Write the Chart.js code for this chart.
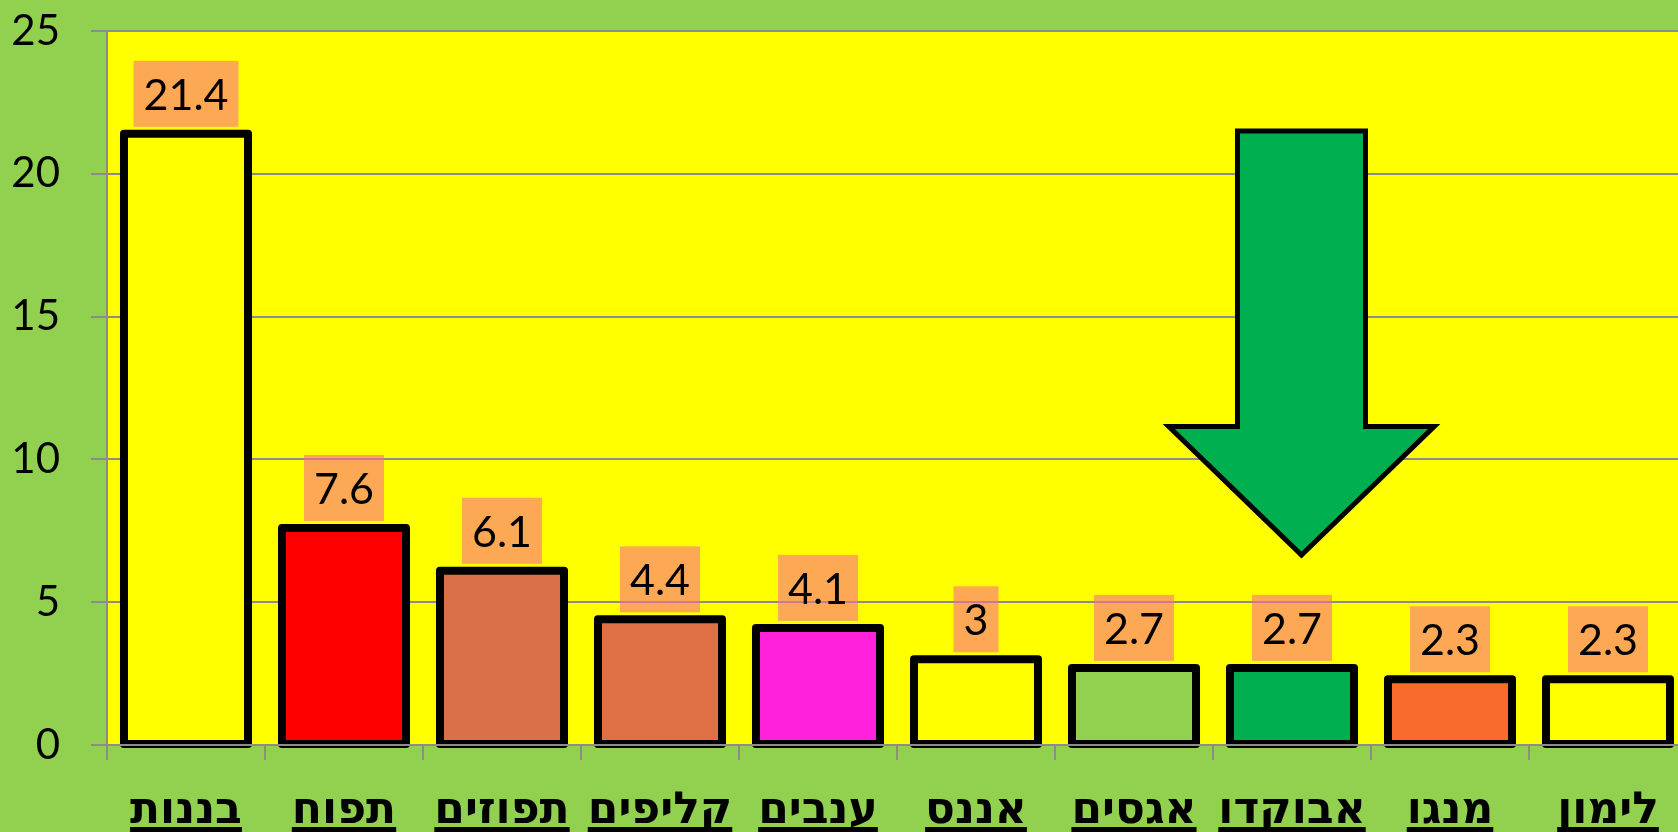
<!DOCTYPE html>
<html>
<head>
<meta charset="utf-8">
<script src="https://cdn.jsdelivr.net/npm/chart.js@4"></script>
<style>
  html, body { margin: 0; padding: 0; overflow: hidden; background: #92D050; }
</style>
</head>
<body>
<canvas id="chart1"></canvas>
<script>
// data
const categories = ['בננות', 'תפוח', 'תפוזים', 'קליפים', 'ענבים', 'אננס', 'אגסים', 'אבוקדו', 'מנגו', 'לימון'];
const values = [21.4, 7.6, 6.1, 4.4, 4.1, 3, 2.7, 2.7, 2.3, 2.3];
const barColors = ['#FFFF00', '#FF0000', '#D9704A', '#DF7046', '#FF21DB', '#FFFF00', '#92D050', '#00B050', '#F96A2D', '#FFFF00'];
const yTicks = [0, 5, 10, 15, 20, 25];

// arrow over avocado (in category / value units)
const arrowCat = 7;
const arrowShift = 0.06;
const arrowTop = 21.5;
const arrowNeck = 11.15;
const arrowTip = 6.65;
const shaftHalf = 0.405;
const headHalf = 0.84;

const labelFont = '43px Lato';
const catFont = { family: 'DejaVu Sans', size: 44, weight: 'bold' };

const canvas = document.getElementById('chart1');
canvas.width = 1690;
canvas.height = 832;
const ctx = canvas.getContext('2d');

// 배경
const bgPlugin = {
  id: 'bg',
  beforeDraw(chart) {
    const c = chart.ctx, a = chart.chartArea;
    c.save();
    c.fillStyle = '#92D050';
    c.fillRect(0, 0, chart.width, chart.height);
    c.fillStyle = '#FFFF00';
    c.fillRect(a.left, a.top, a.right - a.left, a.bottom - a.top);
    c.restore();
  },
};

// bar outlines, arrow, value boxes
const marksPlugin = {
  id: 'marks',
  afterDatasetsDraw(chart) {
    const c = chart.ctx;
    const xs = chart.scales.x, ys = chart.scales.y;
    const meta = chart.getDatasetMeta(0);
    c.save();
    c.lineWidth = 8;
    c.strokeStyle = '#000';
    c.lineJoin = 'round';
    meta.data.forEach(function (bar) {
      const p = bar.getProps(['x', 'y', 'base', 'width'], true);
      c.strokeRect(p.x - p.width / 2, p.y, p.width, p.base - p.y);
    });
    // axis line shows over the bar bottoms
    c.fillStyle = '#8c8c8c';
    c.fillRect(chart.chartArea.left, ys.getPixelForValue(0) - 1, chart.chartArea.right - chart.chartArea.left, 2);

    // arrow
    const cw = xs.getPixelForValue(1) - xs.getPixelForValue(0);
    const cx = xs.getPixelForValue(arrowCat) + arrowShift * cw;
    const yTop = ys.getPixelForValue(arrowTop);
    const yNeck = ys.getPixelForValue(arrowNeck);
    const yTip = ys.getPixelForValue(arrowTip);
    c.beginPath();
    c.moveTo(cx - shaftHalf * cw, yTop);
    c.lineTo(cx + shaftHalf * cw, yTop);
    c.lineTo(cx + shaftHalf * cw, yNeck);
    c.lineTo(cx + headHalf * cw, yNeck);
    c.lineTo(cx, yTip);
    c.lineTo(cx - headHalf * cw, yNeck);
    c.lineTo(cx - shaftHalf * cw, yNeck);
    c.closePath();
    c.fillStyle = '#00B050';
    c.fill();
    c.lineWidth = 5;
    c.lineJoin = 'miter';
    c.stroke();

    // value boxes
    c.font = labelFont;
    c.textAlign = 'center';
    c.textBaseline = 'middle';
    meta.data.forEach(function (bar, i) {
      const p = bar.getProps(['x', 'y'], true);
      const txt = String(values[i]);
      const w = c.measureText(txt).width + 20;
      const h = 66;
      const bottom = p.y - 7;
      c.fillStyle = 'rgba(250, 110, 140, 0.6)';
      c.fillRect(p.x - w / 2, bottom - h, w, h);
      c.fillStyle = '#000';
      c.fillText(txt, p.x, bottom - h / 2 + 2);
    });
    c.restore();
  },
  afterDraw(chart) {
    // underline category labels
    const c = chart.ctx, xs = chart.scales.x;
    c.save();
    c.font = 'bold ' + catFont.size + 'px "' + catFont.family + '"';
    c.fillStyle = '#000';
    categories.forEach(function (name, i) {
      const x = xs.getPixelForTick(i);
      const w = c.measureText(name).width;
      c.fillRect(x - w / 2, 827, w, 5);
    });
    c.restore();
  },
};

new Chart(ctx, {
  type: 'bar',
  data: {
    labels: categories,
    datasets: [{
      data: values,
      backgroundColor: barColors,
      borderWidth: 0,
      categoryPercentage: 1,
      barPercentage: 0.785,
    }],
  },
  options: {
    responsive: false,
    maintainAspectRatio: false,
    animation: false,
    layout: { padding: { top: 31, right: 3, left: 0, bottom: 0 } },
    plugins: {
      legend: { display: false },
      tooltip: { enabled: false },
    },
    scales: {
      x: {
        offset: true,
        grid: { offset: true, drawOnChartArea: false, drawTicks: true, tickLength: 15, color: '#8c8c8c', lineWidth: 2 },
        border: { display: true, color: '#8c8c8c', width: 2 },
        ticks: { color: '#000', font: catFont, padding: 25, maxRotation: 0, autoSkip: false },
        afterFit: function (scale) { scale.height = 87; },
      },
      y: {
        min: 0,
        max: 25,
        afterBuildTicks: function (scale) { scale.ticks = yTicks.map(v => ({ value: v })); },
        ticks: { color: '#000', font: { family: 'Lato', size: 42 }, padding: 31 },
        grid: { color: '#8c8c8c', lineWidth: 2, tickLength: 16 },
        border: { display: true, color: '#8c8c8c', width: 2 },
        afterFit: function (scale) {
          scale.width = 107;
          scale.paddingTop = 0;
          scale.paddingBottom = 0;
        },
      },
    },
  },
  plugins: [bgPlugin, marksPlugin],
});
</script>
</body>
</html>
